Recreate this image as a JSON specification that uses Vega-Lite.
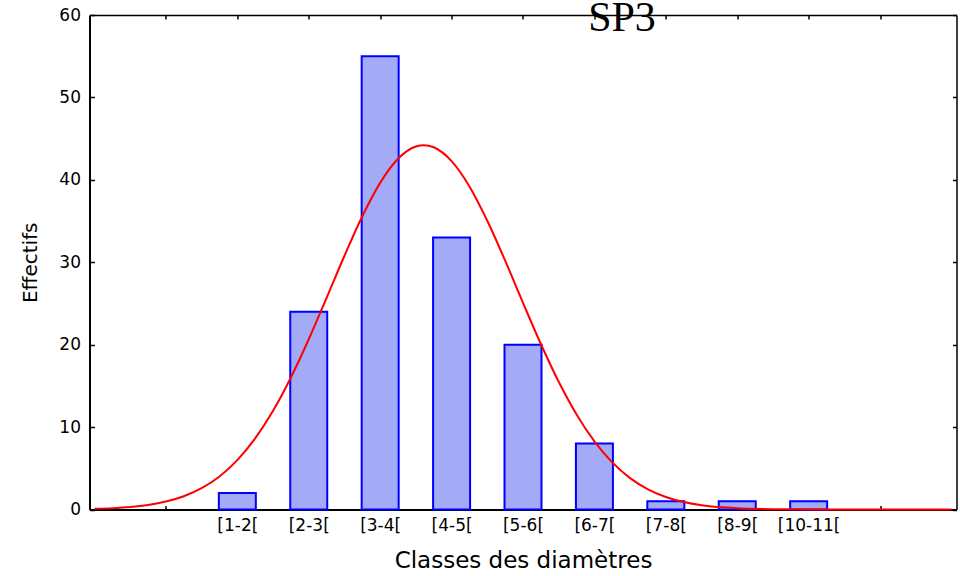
{
  "$schema": "https://vega.github.io/schema/vega-lite/v6.json",
  "autosize": "none",
  "width": 867,
  "height": 494.5,
  "padding": {"left": 89.5, "top": 15, "right": 3.5, "bottom": 66.5},
  "background": "white",
  "title": {
    "text": "SP3",
    "font": "Liberation Serif",
    "fontSize": 42,
    "fontWeight": "normal",
    "color": "black",
    "anchor": "middle",
    "frame": "group",
    "baseline": "top",
    "dx": 99,
    "offset": -34
  },
  "datasets": {
    "classes": [
      {"pos": 2, "classe": "[1-2[", "effectif": 2},
      {"pos": 3, "classe": "[2-3[", "effectif": 24},
      {"pos": 4, "classe": "[3-4[", "effectif": 55},
      {"pos": 5, "classe": "[4-5[", "effectif": 33},
      {"pos": 6, "classe": "[5-6[", "effectif": 20},
      {"pos": 7, "classe": "[6-7[", "effectif": 8},
      {"pos": 8, "classe": "[7-8[", "effectif": 1},
      {"pos": 9, "classe": "[8-9[", "effectif": 1},
      {"pos": 10, "classe": "[10-11[", "effectif": 1}
    ],
    "courbe": [
      {"x": 0, "y": 0.087},
      {"x": 0.25, "y": 0.167},
      {"x": 0.5, "y": 0.311},
      {"x": 0.75, "y": 0.558},
      {"x": 1.0, "y": 0.965},
      {"x": 1.25, "y": 1.609},
      {"x": 1.5, "y": 2.587},
      {"x": 1.75, "y": 4.009},
      {"x": 2.0, "y": 5.99},
      {"x": 2.25, "y": 8.62},
      {"x": 2.5, "y": 11.97},
      {"x": 2.75, "y": 16.02},
      {"x": 3.0, "y": 20.66},
      {"x": 3.25, "y": 25.69},
      {"x": 3.5, "y": 30.79},
      {"x": 3.75, "y": 35.58},
      {"x": 4.0, "y": 39.63},
      {"x": 4.25, "y": 42.55},
      {"x": 4.5, "y": 44.04},
      {"x": 4.61, "y": 44.2},
      {"x": 4.75, "y": 43.95},
      {"x": 5.0, "y": 42.27},
      {"x": 5.25, "y": 39.2},
      {"x": 5.5, "y": 35.03},
      {"x": 5.75, "y": 30.19},
      {"x": 6.0, "y": 25.08},
      {"x": 6.25, "y": 20.08},
      {"x": 6.5, "y": 15.5},
      {"x": 6.75, "y": 11.53},
      {"x": 7.0, "y": 8.27},
      {"x": 7.25, "y": 5.72},
      {"x": 7.5, "y": 3.81},
      {"x": 7.75, "y": 2.449},
      {"x": 8.0, "y": 1.517},
      {"x": 8.25, "y": 0.906},
      {"x": 8.5, "y": 0.521},
      {"x": 8.75, "y": 0.289},
      {"x": 9.0, "y": 0.155},
      {"x": 9.25, "y": 0.08},
      {"x": 9.5, "y": 0.04},
      {"x": 9.75, "y": 0.019},
      {"x": 10.0, "y": 0.009},
      {"x": 10.5, "y": 0.002},
      {"x": 11.0, "y": 0.0003},
      {"x": 11.5, "y": 0},
      {"x": 12.0, "y": 0}
    ]
  },
  "layer": [
    {
      "data": {"name": "classes"},
      "mark": {"type": "bar", "width": 37, "fill": "#a3abf6", "stroke": "#0000ff", "strokeWidth": 2},
      "encoding": {
        "x": {
          "field": "pos",
          "type": "quantitative",
          "scale": {"domain": [0, 12], "nice": false, "zero": false},
          "axis": {
            "orient": "bottom",
            "values": [1, 2, 3, 4, 5, 6, 7, 8, 9, 10, 11],
            "labelExpr": "['', '', '[1-2[', '[2-3[', '[3-4[', '[4-5[', '[5-6[', '[6-7[', '[7-8[', '[8-9[', '[10-11[', ''][datum.value]",
            "tickSize": -4,
            "labelPadding": 12,
            "domainWidth": 2,
            "title": "Classes des diamètres",
            "titleFont": "DejaVu Sans",
            "titleFontSize": 23,
            "titleFontWeight": "normal",
            "titlePadding": 16
          }
        },
        "y": {
          "field": "effectif",
          "type": "quantitative",
          "scale": {"domain": [0, 60], "nice": false},
          "axis": {
            "orient": "left",
            "values": [0, 10, 20, 30, 40, 50, 60],
            "tickSize": -5,
            "labelPadding": 14,
            "domainWidth": 2,
            "title": "Effectifs",
            "titleFont": "DejaVu Sans",
            "titleFontSize": 20,
            "titleFontWeight": "normal",
            "titlePadding": 18
          }
        }
      }
    },
    {
      "data": {"name": "courbe"},
      "mark": {"type": "line", "color": "#ff0000", "strokeWidth": 2, "interpolate": "monotone"},
      "encoding": {
        "x": {
          "field": "x",
          "type": "quantitative",
          "axis": {
            "orient": "top",
            "values": [1, 2, 3, 4, 5, 6, 7, 8, 9, 10, 11],
            "labels": false,
            "tickSize": -4,
            "domainWidth": 1.5,
            "title": null
          }
        },
        "y": {
          "field": "y",
          "type": "quantitative",
          "axis": {
            "orient": "right",
            "values": [0, 10, 20, 30, 40, 50, 60],
            "labels": false,
            "tickSize": -4,
            "domainWidth": 1.5,
            "title": null
          }
        }
      }
    }
  ],
  "resolve": {"axis": {"x": "independent", "y": "independent"}},
  "config": {
    "view": {"stroke": null},
    "axis": {
      "grid": false,
      "domainColor": "black",
      "tickColor": "black",
      "tickWidth": 1.5,
      "labelColor": "black",
      "titleColor": "black",
      "labelFont": "DejaVu Sans",
      "labelFontSize": 17,
      "labelFlush": false,
      "labelOverlap": false
    }
  }
}
